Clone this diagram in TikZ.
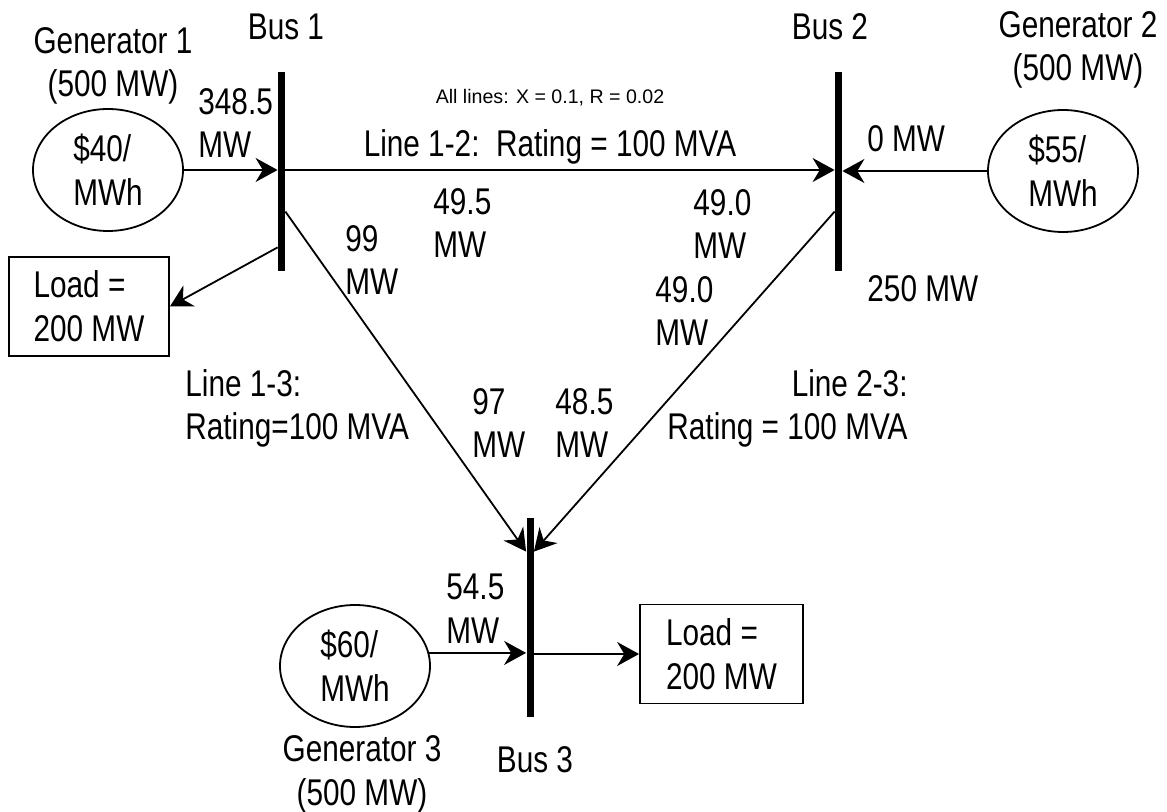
\documentclass[tikz,border=0pt]{standalone}
\usepackage{fontspec}
\newfontfamily\diagfont{Liberation Sans}[FakeStretch=0.8]
\newfontfamily\notefont{Liberation Sans}
\usetikzlibrary{shapes.geometric}
\usetikzlibrary{arrows.meta}

\begin{document}
\begin{tikzpicture}[x=0.5pt,y=-0.5pt,
  every node/.style={font=\diagfont\fontsize{18.6}{21.8}\selectfont, inner sep=0pt},
  bus/.style={fill=black, minimum width=3.5pt, minimum height=99.5pt},
  gen/.style={draw, ellipse, line width=0.9pt, minimum width=75pt, minimum height=61pt, align=left},
  load/.style={draw, rectangle, line width=0.9pt, minimum height=49.5pt, align=left},
  lbl/.style={anchor=base west, align=left},
  flow/.style={line width=0.9pt, -{Stealth[length=\arlen, width=\arwid]}}]
\def\arlen{11pt}
\def\arwid{12pt}
\useasboundingbox (0,0) rectangle (1167,812);
% buses
\node [bus, name=b1] at (281.5,171.5) {};
\node [bus, name=b2] at (838.5,171.5) {};
\node [bus, name=b3] at (530,617.5) {};
\node [anchor=base, name=b1lbl] at (286,40) {Bus 1};
\node [anchor=base, name=b2lbl] at (830,40) {Bus 2};
\node [anchor=base, name=b3lbl] at (535,772) {Bus 3};
% generators
\node [gen, name=g1] at (108,170) {\$40/\\MWh};
\node [gen, name=g2] at (1063,171) {\$55/\\MWh};
\node [gen, name=g3] at (355,666) {\$60/\\MWh};
\node [anchor=base, align=center, name=g1lbl] at (113,97) {Generator 1\\(500 MW)};
\node [anchor=base, align=center, name=g2lbl] at (1078,81) {Generator 2\\(500 MW)};
\node [anchor=base, align=center, name=g3lbl] at (362,805) {Generator 3\\(500 MW)};
% loads
\node [load, minimum width=80pt, name=l1] at (89,306.5) {Load =\\200 MW};
\node [load, minimum width=81.5pt, name=l3] at (721.5,654) {Load =\\200 MW};
% flows
\draw [flow] (g1.east) -- (g1.east -| b1.west);
\draw [flow] (g1.east -| b1.east) -- (g1.east -| b2.west);
\draw [flow] (g2.west) -- (g2.west -| b2.east);
\draw [flow] ([yshift=12pt]b1.south west) -- (l1.east);
\draw [flow] ([yshift=-70pt]b1.north east) -- ([yshift=-17pt]b3.north west);
\draw [flow] ([yshift=-70pt]b2.north west) -- ([yshift=-17pt]b3.north east);
\draw [flow] (g3.10) -- (g3.10 -| b3.west);
\draw [flow] (l3.west -| b3.east) -- (l3.west);
% line data and flow values
\node [anchor=base, font=\notefont\fontsize{9.8}{12}\selectfont, name=note] at (550,104) {All lines: X = 0.1, R = 0.02};
\node [anchor=base, name=r12] at (550,157) {Line 1-2:\ \ Rating = 100 MVA};
\node [lbl, name=r13] at (185,440) {Line 1-3:\\Rating=100 MVA};
\node [anchor=base east, align=right, name=r23] at (908,440) {Line 2-3:\\Rating = 100 MVA};
\node [lbl, name=p1] at (198,158) {348.5\\MW};
\node [lbl, name=p2] at (867,152) {0 MW};
\node [lbl, name=p3] at (446,643) {54.5\\MW};
\node [lbl, name=d2] at (867,302) {250 MW};
\node [lbl, name=f12a] at (433,258) {49.5\\MW};
\node [lbl, name=f12b] at (693,259) {49.0\\MW};
\node [lbl, name=f13a] at (345,295) {99\\MW};
\node [lbl, name=f13b] at (472,458) {97\\MW};
\node [lbl, name=f23a] at (655,346) {49.0\\MW};
\node [lbl, name=f23b] at (555,458) {48.5\\MW};
\end{tikzpicture}
\end{document}
